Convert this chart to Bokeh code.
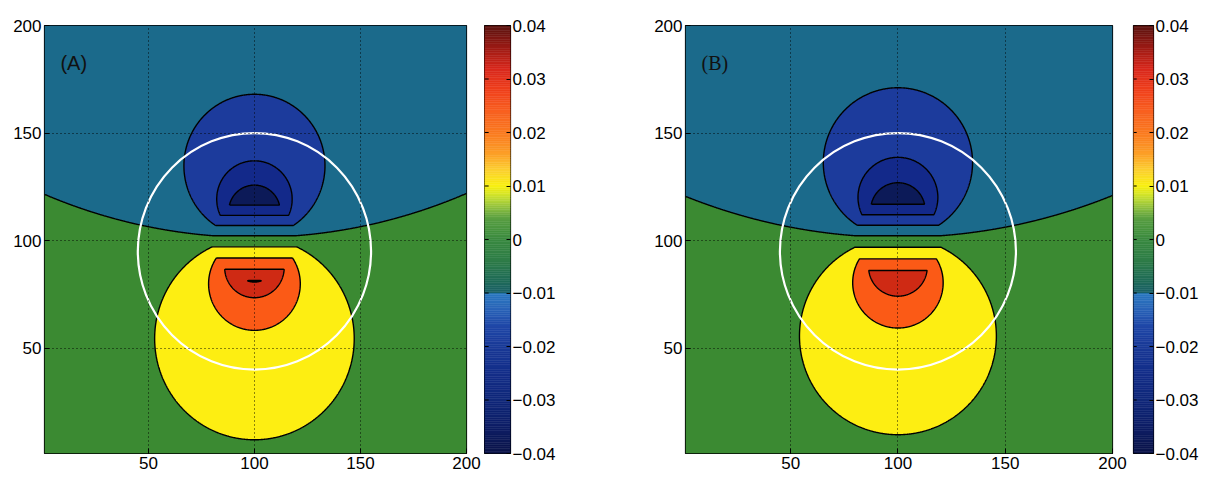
import numpy as np
from bokeh.plotting import figure
from bokeh.layouts import row
from bokeh.models import Range1d, FixedTicker, CustomJSTickFormatter, ColumnDataSource
from bokeh.core.properties import value
from bokeh.embed import file_html
from bokeh.resources import INLINE

# ---- contour levels and the fill used for each band between two levels ----
levels = [-0.05, -0.04, -0.03, -0.02, -0.01, 0.0, 0.01, 0.02, 0.03, 0.04, 0.05]
band_colors = ["#0b1448", "#0c1a58", "#13298a", "#1c3b9c", "#1b6a8b",
               "#3b8a32", "#fdee12", "#fb5a16", "#cf2a14", "#8a1410"]

# ---- dipole source parameters for the two panels ----
panel_labels = ["(A)", "(B)"]
panel_label_fonts = ["Liberation Sans", "Liberation Serif"]
source_x = [100.0, 100.0]
source_y = [101.5, 101.5]
k_upper = [0.765, 0.80]          # strength of the negative (upper) lobe
k_lower = [0.80, 0.78]           # strength of the positive (lower) lobe
slope_upper = [0.0021, 0.00205]  # linear core gradient above the source
slope_lower = [0.00192, 0.00185] # linear core gradient below the source
offset = [0.0015, 0.0015]

# ---- white reference ring ----
ring_x = [100.0]
ring_y = [95.0]
ring_d = [110.0]

# ---- axes ----
axis_ticks = [50, 100, 150, 200]
grid_ticks = [50, 100, 150]
cbar_ticks = [-0.04, -0.03, -0.02, -0.01, 0.0, 0.01, 0.02, 0.03, 0.04]
cbar_low, cbar_high = -0.04, 0.04
cbar_stops = [
    (-0.040, "#0c1448"), (-0.035, "#0e1e66"), (-0.030, "#10287a"),
    (-0.025, "#142e88"), (-0.020, "#1a3a98"), (-0.016, "#2048a8"),
    (-0.013, "#2a64b8"), (-0.0101, "#2a78c0"), (-0.0099, "#1a6068"),
    (-0.008, "#1f6a5a"), (-0.004, "#2e7c48"), (0.000, "#3a8a40"),
    (0.004, "#5aa040"), (0.006, "#90c040"), (0.008, "#c8e030"),
    (0.010, "#f8f010"), (0.013, "#fcd030"), (0.016, "#fca028"),
    (0.020, "#fa7a20"), (0.024, "#f86020"), (0.028, "#f0401c"),
    (0.032, "#d8281c"), (0.036, "#9a1a14"), (0.040, "#5a1410"),
]

grid_x = np.linspace(1, 200, 797)
grid_y = np.linspace(1, 200, 797)


def potential(i):
    xx, yy = np.meshgrid(grid_x, grid_y)
    dx = xx - source_x[i]
    dy = yy - source_y[i]
    r2 = np.maximum(dx * dx + dy * dy, 1e-9)
    k = np.where(dy > 0, k_upper[i], k_lower[i])
    s = np.where(dy > 0, slope_upper[i], slope_lower[i])
    return offset[i] - dy * np.minimum(k / r2, s)


def hex_to_rgb(h):
    return np.array([int(h[j:j + 2], 16) for j in (1, 3, 5)], dtype=float)


def cbar_palette(n):
    vals = np.array([v for v, _ in cbar_stops])
    rgbs = np.array([hex_to_rgb(c) for _, c in cbar_stops])
    edges = np.linspace(cbar_low, cbar_high, n + 1)
    mids = 0.5 * (edges[:-1] + edges[1:])
    cols = []
    for m in mids:
        rgb = [np.interp(m, vals, rgbs[:, j]) for j in range(3)]
        cols.append("#%02x%02x%02x" % tuple(int(round(c)) for c in rgb))
    return edges, cols


def main_panel(i, width, height, left, right, top, bottom):
    p = figure(width=width, height=height, output_backend="svg", toolbar_location=None,
               x_range=Range1d(1, 200), y_range=Range1d(1, 200),
               min_border_left=left, min_border_right=right,
               min_border_top=top, min_border_bottom=bottom)
    z = potential(i)
    p.contour(grid_x, grid_y, z, levels, fill_color=band_colors,
              line_color="black", line_width=1.4)
    p.ellipse(x=ring_x, y=ring_y, width=ring_d, height=ring_d,
              fill_color=None, line_color="white", line_width=2.2)
    p.text(x=[8.5], y=[182.5], text=[panel_labels[i]], text_font=value(panel_label_fonts[i]),
           text_font_size="20px", text_baseline="middle", text_align="left",
           text_color="#111111")
    for ax in (p.xaxis[0], p.yaxis[0]):
        ax.ticker = FixedTicker(ticks=axis_ticks)
        ax.major_tick_in = 5
        ax.major_tick_out = 0
        ax.minor_tick_line_color = None
        ax.axis_line_color = None
        ax.major_tick_line_color = "black"
        ax.major_label_text_font = "Liberation Sans"
        ax.major_label_text_font_size = "17px"
        ax.major_label_text_color = "black"
        ax.major_label_standoff = 3
    for g in (p.xgrid[0], p.ygrid[0]):
        g.ticker = FixedTicker(ticks=grid_ticks)
        g.grid_line_color = "black"
        g.grid_line_dash = "1 3"
        g.grid_line_width = 1
        g.grid_line_alpha = 0.9
        g.level = "guide"
    p.outline_line_color = "black"
    p.outline_line_width = 1.2
    p.background_fill_color = "white"
    return p


def colorbar_panel(width, height, left, right, top, bottom):
    edges, cols = cbar_palette(240)
    src = ColumnDataSource(dict(bottom=edges[:-1], top=edges[1:], color=cols))
    p = figure(width=width, height=height, output_backend="svg", toolbar_location=None,
               x_range=Range1d(0, 1), y_range=Range1d(cbar_low, cbar_high),
               x_axis_location=None, y_axis_location="right",
               min_border_left=left, min_border_right=right,
               min_border_top=top, min_border_bottom=bottom)
    p.quad(left=0, right=1, bottom="bottom", top="top", fill_color="color",
           line_color="color", line_width=0.5, source=src)
    # inward tick marks along the left edge of the bar
    p.segment(x0=0, x1=0.16, y0=cbar_ticks, y1=cbar_ticks, line_color="black", line_width=1)
    p.xgrid.visible = False
    p.ygrid.visible = False
    fmt = CustomJSTickFormatter(code="""
        const v = Math.round(tick * 100) / 100;
        if (v === 0) { return '0'; }
        return (v < 0 ? '\\u2212' : '') + Math.abs(v).toFixed(2);
    """)
    ax = p.yaxis[0]
    ax.ticker = FixedTicker(ticks=cbar_ticks)
    ax.formatter = fmt
    ax.major_tick_in = 4
    ax.major_tick_out = 0
    ax.minor_tick_line_color = None
    ax.axis_line_color = None
    ax.major_label_text_font = "Liberation Sans"
    ax.major_label_text_font_size = "17px"
    ax.major_label_text_color = "black"
    ax.major_label_standoff = 2
    p.outline_line_color = "black"
    p.outline_line_width = 1.2
    return p


pa = main_panel(0, 484, 485, 44, 18, 25, 22)
ca = colorbar_panel(156, 485, 0, 130, 24, 25)
pb = main_panel(1, 490, 485, 45, 18, 24, 28)
cb = colorbar_panel(76, 485, 3, 53, 19, 32)

layout = row(pa, ca, pb, cb, spacing=0)

with open("out.html", "w") as f:
    f.write(file_html(layout, INLINE))
